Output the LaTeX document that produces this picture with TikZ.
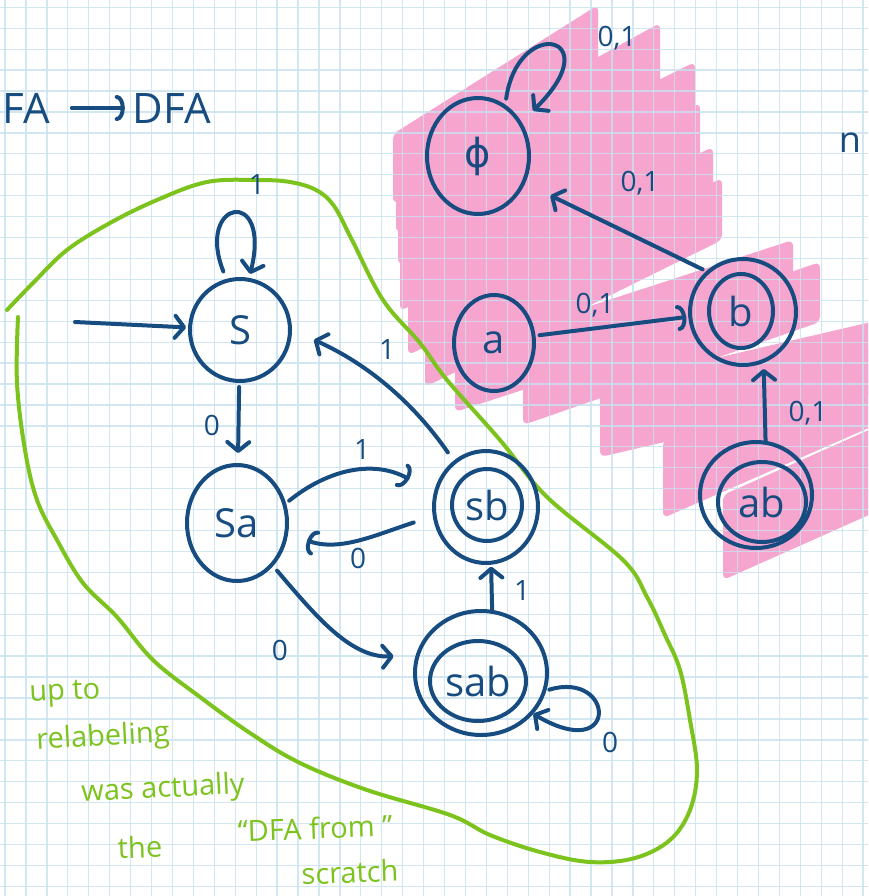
\documentclass[tikz,border=0pt]{standalone}
\usepackage{fontspec}
\setmainfont{Open Sans}
\newfontfamily\djv{DejaVu Sans}
\usetikzlibrary{arrows.meta,shapes.geometric}
\definecolor{ink}{HTML}{174C80}
\definecolor{grn}{HTML}{7DC31E}
\definecolor{pnk}{HTML}{F6A5CE}
\definecolor{gridc}{HTML}{C8E2F0}
\newcommand\pinkstroke[5]{\fill[pnk,rounded corners=6pt] (#1,#2) -- (#3,#4) -- (#3,#4+#5) -- (#1,#2+#5) -- cycle;}
\begin{document}
\begin{tikzpicture}[x=1pt,y=-1pt,
  inkline/.style={draw=ink,line width=4pt,line cap=round,line join=round},
  arr/.style={inkline,-{Straight Barb[length=9pt,width=22pt,round]}},
  carr/.style={inkline,-{Arc Barb[length=8pt,width=26pt,round]}},
  state/.style={ellipse,draw=ink,line width=4pt,inner sep=0pt,text=ink,font=\fontsize{40}{40}\selectfont},
  lbl/.style={text=ink,inner sep=0pt,font=\fontsize{28}{28}\selectfont},
  note/.style={text=grn,inner sep=0pt,font=\fontsize{29}{29}\selectfont},
  ttl/.style={text=ink,inner sep=0pt,font=\fontsize{42}{42}\selectfont},
  ]
\useasboundingbox (0,0) rectangle (868,896);
\clip (0,0) rectangle (868,896);
\fill[white] (0,0) rectangle (868,896);
% pink highlighter strokes
\pinkstroke{393}{134}{598}{5}{70}
\pinkstroke{396}{168}{660}{23}{65}
\pinkstroke{398}{210}{695}{62}{55}
\pinkstroke{400}{253}{700}{103}{58}
\pinkstroke{408}{290}{713}{147}{65}
\pinkstroke{425}{325}{722}{178}{62}
\pinkstroke{455}{350}{793}{240}{62}
\pinkstroke{523}{365}{820}{262}{60}
\pinkstroke{600}{385}{880}{320}{72}
\pinkstroke{663}{440}{880}{345}{78}
\pinkstroke{723}{495}{880}{425}{85}
% grid
\foreach \i in {0,...,41} \draw[gridc,line width=1.3pt,opacity=.8] ({5+20.93*\i},0) -- ++(0,896);
\foreach \j in {0,...,42} \draw[gridc,line width=1.3pt,opacity=.8] (0,{7.3+20.93*\j}) -- ++(868,0);
% green boundary
\draw[grn,line width=4pt,line cap=round] plot[smooth,tension=0.6] coordinates {
 (18,317) (17,383) (25,450) (37,500) (57,540) (83,583) (117,617) (153,660) (200,697)
 (250,733) (300,763) (367,790) (450,815) (490,835) (540,852) (590,862) (635,858)
 (670,840) (690,810) (697,770) (690,720) (680,670) (665,635) (647,597) (623,560)
 (547,497) (500,440) (447,380) (420,343) (383,300) (352,240) (334,206) (316,190) (290,182)
 (257,180) (207,182) (157,200) (110,223) (67,250) (33,283) (7,310)};
% title
\node[ttl,anchor=west] (fa) at (2,108) {FA};
\node[ttl] (dfa) at (172,108) {DFA};
\draw[carr,shorten <=22pt,shorten >=8pt] (fa) -- (dfa);
\node[lbl,font=\fontsize{36}{36}\selectfont] (nn) at (850,143) {n};
% states
\node[state,minimum width=100pt,minimum height=102pt] (s) at (240,330) {S};
\node[state,minimum width=100pt,minimum height=116pt] (sa) at (237,523) {Sa};
\node[state,minimum width=104pt,minimum height=112pt,font=\normalsize] (sb) at (486,507) {};
\node[state,minimum width=70pt,minimum height=72pt] (sbi) at (487,505) {sb};
\node[state,minimum width=132pt,minimum height=124pt,font=\normalsize] (sab) at (481,673) {};
\node[state,minimum width=96pt,minimum height=80pt] (sabi) at (478,681) {sab};
\node[state,minimum width=102pt,minimum height=116pt] (phi) at (478,156) {{\djv ϕ}};
\node[state,minimum width=80pt,minimum height=96pt] (a) at (494,343) {a};
\node[state,minimum width=106pt,minimum height=106pt,font=\normalsize] (b) at (743,312) {};
\node[state,minimum width=64pt,minimum height=74pt] (bi) at (741,311) {b};
\node[state,minimum width=112pt,minimum height=106pt,font=\normalsize] (ab) at (756,495) {};
\node[state,minimum width=88pt,minimum height=80pt] (abi) at (762,502) {ab};
% transitions
\coordinate (start) at (75,322);
\draw[arr,shorten >=2pt] (start) -- (s);
\draw[arr,shorten <=8pt,shorten >=4pt] (s.105) .. controls (195,200) and (272,185) .. (s.80);
\node[lbl] (l1) at (257,185) {1};
\draw[arr,shorten <=4pt,shorten >=10pt] (s) -- (sa);
\node[lbl] (l2) at (212,425) {0};
\draw[carr,shorten <=4pt,shorten >=28pt] (sa.22) .. controls (330,468) and (375,460) .. (sb.165);
\node[lbl] (l3) at (362,450) {1};
\draw[carr,shorten <=20pt,shorten >=20pt] (sb.190) .. controls (375,535) and (340,552) .. (sa.-12);
\node[lbl] (l4) at (358,558) {0};
\draw[arr,shorten <=10pt,shorten >=24pt] (sb.125) .. controls (415,405) and (370,365) .. (s.east);
\node[lbl] (l5) at (387,350) {1};
\draw[arr,shorten <=6pt,shorten >=22pt] (sa.-50) .. controls (315,615) and (350,658) .. (sab.165);
\node[lbl] (l6) at (280,650) {0};
\draw[arr,shorten >=2pt] (sab.80) -- (sb.-85);
\node[lbl] (l7) at (522,590) {1};
\draw[arr,shorten <=3pt] (sab.-15) .. controls (615,670) and (620,765) .. (sab.-38);
\node[lbl] (l8) at (610,742) {0};
\draw[arr,shorten <=6pt,shorten >=16pt] (phi.62) .. controls (518,15) and (610,35) .. (phi.38);
\node[lbl] (l9) at (617,38) {0,1};
\draw[arr,shorten <=4pt,shorten >=28pt] (b.132) -- (phi.-30);
\node[lbl] (l10) at (640,183) {0,1};
\draw[carr,shorten <=4pt,shorten >=2pt] (a.10) -- (b.185);
\node[lbl] (l11) at (595,305) {0,1};
\draw[arr,shorten >=6pt] (ab.80) -- (b.-68);
\node[lbl] (l12) at (808,413) {0,1};
% green notes
\node[note,rotate=3] (n1) at (65,694) {up to};
\node[note,rotate=3] (n2) at (103,738) {relabeling};
\node[note,rotate=3] (n3) at (163,790) {was actually};
\node[note,rotate=2] (n4) at (140,847) {the};
\node[note,rotate=2] (n5) at (315,828) {“DFA from ”};
\node[note,rotate=2] (n6) at (350,872) {scratch};
\end{tikzpicture}
\end{document}
